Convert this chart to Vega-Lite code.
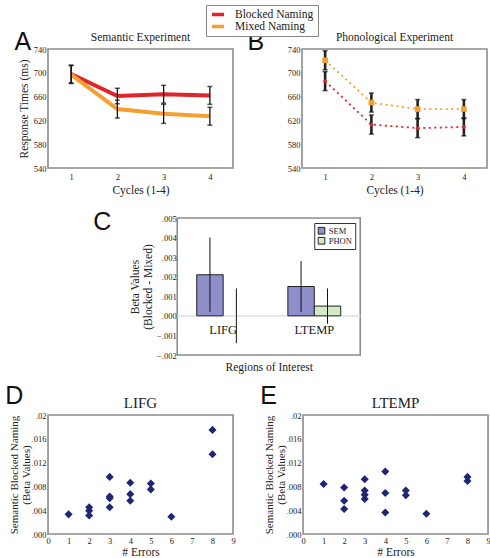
{
  "$schema": "https://vega.github.io/schema/vega-lite/v6.json",
  "padding": {"left": 5, "top": 4, "right": 0, "bottom": 0},
  "background": "white",
  "title": {"text": "C", "anchor": "start", "frame": "bounds", "font": "Liberation Sans", "fontSize": 25, "fontWeight": "normal", "color": "#111", "baseline": "alphabetic", "dx": 88, "dy": 254},
  "datasets": {
    "rt": [
      {"exp": "Semantic", "cycle": 1, "cond": "Blocked Naming", "rt": 698, "lo": 683, "hi": 713},
      {"exp": "Semantic", "cycle": 2, "cond": "Blocked Naming", "rt": 661, "lo": 648, "hi": 674},
      {"exp": "Semantic", "cycle": 3, "cond": "Blocked Naming", "rt": 664, "lo": 649, "hi": 679},
      {"exp": "Semantic", "cycle": 4, "cond": "Blocked Naming", "rt": 662, "lo": 647, "hi": 677},
      {"exp": "Semantic", "cycle": 1, "cond": "Mixed Naming", "rt": 697, "lo": 682, "hi": 712},
      {"exp": "Semantic", "cycle": 2, "cond": "Mixed Naming", "rt": 639, "lo": 624, "hi": 654},
      {"exp": "Semantic", "cycle": 3, "cond": "Mixed Naming", "rt": 631, "lo": 615, "hi": 647},
      {"exp": "Semantic", "cycle": 4, "cond": "Mixed Naming", "rt": 627, "lo": 612, "hi": 642},
      {"exp": "Phonological", "cycle": 1, "cond": "Blocked Naming", "rt": 686, "lo": 670, "hi": 702},
      {"exp": "Phonological", "cycle": 2, "cond": "Blocked Naming", "rt": 613, "lo": 597, "hi": 629},
      {"exp": "Phonological", "cycle": 3, "cond": "Blocked Naming", "rt": 607, "lo": 591, "hi": 623},
      {"exp": "Phonological", "cycle": 4, "cond": "Blocked Naming", "rt": 609, "lo": 594, "hi": 624},
      {"exp": "Phonological", "cycle": 1, "cond": "Mixed Naming", "rt": 721, "lo": 705, "hi": 737},
      {"exp": "Phonological", "cycle": 2, "cond": "Mixed Naming", "rt": 650, "lo": 634, "hi": 666},
      {"exp": "Phonological", "cycle": 3, "cond": "Mixed Naming", "rt": 639, "lo": 623, "hi": 655},
      {"exp": "Phonological", "cycle": 4, "cond": "Mixed Naming", "rt": 639, "lo": 623, "hi": 655}
    ],
    "beta": [
      {"region": "LIFG", "type": "SEM", "value": 0.0021, "lo": 0.0002, "hi": 0.0040},
      {"region": "LIFG", "type": "PHON", "value": 0.0, "lo": -0.0014, "hi": 0.0014},
      {"region": "LTEMP", "type": "SEM", "value": 0.0015, "lo": 0.0002, "hi": 0.0028},
      {"region": "LTEMP", "type": "PHON", "value": 0.0005, "lo": -0.0004, "hi": 0.0014}
    ],
    "regions": [{"region": "LIFG"}, {"region": "LTEMP"}],
    "scatter": [
      {"roi": "LIFG", "errors": 1, "beta": 0.0033},
      {"roi": "LIFG", "errors": 2, "beta": 0.0045},
      {"roi": "LIFG", "errors": 2, "beta": 0.0039},
      {"roi": "LIFG", "errors": 2, "beta": 0.0031},
      {"roi": "LIFG", "errors": 3, "beta": 0.0096},
      {"roi": "LIFG", "errors": 3, "beta": 0.0063},
      {"roi": "LIFG", "errors": 3, "beta": 0.0060},
      {"roi": "LIFG", "errors": 3, "beta": 0.0045},
      {"roi": "LIFG", "errors": 4, "beta": 0.0086},
      {"roi": "LIFG", "errors": 4, "beta": 0.0067},
      {"roi": "LIFG", "errors": 4, "beta": 0.0056},
      {"roi": "LIFG", "errors": 5, "beta": 0.0085},
      {"roi": "LIFG", "errors": 5, "beta": 0.0075},
      {"roi": "LIFG", "errors": 6, "beta": 0.0029},
      {"roi": "LIFG", "errors": 8, "beta": 0.0175},
      {"roi": "LIFG", "errors": 8, "beta": 0.0134},
      {"roi": "LTEMP", "errors": 1, "beta": 0.0084},
      {"roi": "LTEMP", "errors": 2, "beta": 0.0078},
      {"roi": "LTEMP", "errors": 2, "beta": 0.0056},
      {"roi": "LTEMP", "errors": 2, "beta": 0.0042},
      {"roi": "LTEMP", "errors": 3, "beta": 0.0092},
      {"roi": "LTEMP", "errors": 3, "beta": 0.0073},
      {"roi": "LTEMP", "errors": 3, "beta": 0.0066},
      {"roi": "LTEMP", "errors": 3, "beta": 0.0059},
      {"roi": "LTEMP", "errors": 4, "beta": 0.0105},
      {"roi": "LTEMP", "errors": 4, "beta": 0.0069},
      {"roi": "LTEMP", "errors": 4, "beta": 0.0036},
      {"roi": "LTEMP", "errors": 5, "beta": 0.0073},
      {"roi": "LTEMP", "errors": 5, "beta": 0.0065},
      {"roi": "LTEMP", "errors": 6, "beta": 0.0034},
      {"roi": "LTEMP", "errors": 8, "beta": 0.0096},
      {"roi": "LTEMP", "errors": 8, "beta": 0.0089}
    ]
  },
  "config": {
    "font": "Liberation Serif",
    "view": {"stroke": "#8c8c8c", "strokeWidth": 1.6},
    "axis": {"grid": false, "domain": false, "ticks": false, "labelOverlap": false, "labelFlush": false, "labelFont": "Liberation Serif", "labelFontSize": 8.5, "labelColor": "#222", "labelPadding": 2, "titleFont": "Liberation Serif", "titleFontSize": 11.5, "titleFontWeight": "normal", "titleColor": "#222", "titlePadding": 4},
    "title": {"font": "Liberation Serif", "fontSize": 11.5, "fontWeight": "normal", "color": "#222"},
    "legend": {"labelFont": "Liberation Serif", "labelColor": "#222"}
  },
  "spacing": 16,
  "center": false,
  "resolve": {"scale": {"color": "independent", "fill": "independent"}},
  "vconcat": [
    {
      "spacing": 13,
      "hconcat": [
        {
          "title": {"text": "A", "anchor": "start", "frame": "bounds", "font": "Liberation Sans", "fontSize": 25, "fontWeight": "normal", "color": "#111", "baseline": "alphabetic", "offset": 0, "dy": 44, "dx": -3},
          "hconcat": [
            {
              "width": 185, "height": 119,
              "title": {"text": "Semantic Experiment", "offset": 2},
              "data": {"name": "rt"},
              "transform": [{"filter": "datum.exp == 'Semantic'"}],
              "encoding": {
                "x": {"field": "cycle", "type": "quantitative", "scale": {"domain": [0.5, 4.5]}, "axis": {"values": [1, 2, 3, 4], "title": "Cycles (1-4)", "labelPadding": 4, "labelOverlap": false}}
              },
              "layer": [
                {
                  "mark": {"type": "line", "strokeWidth": 4},
                  "encoding": {
                    "y": {"field": "rt", "type": "quantitative", "scale": {"domain": [540, 740]}, "axis": {"values": [540, 580, 620, 660, 700, 740], "title": "Response Times (ms)", "labelOverlap": false}},
                    "color": {"field": "cond", "type": "nominal", "scale": {"domain": ["Blocked Naming", "Mixed Naming"], "range": ["#e1242c", "#f4a030"]},
                      "legend": {"title": null, "orient": "none", "legendX": 158, "legendY": -44, "symbolType": "stroke", "symbolStrokeWidth": 3.5, "symbolSize": 144, "clipHeight": 11, "labelFontSize": 11.5, "labelOffset": 9, "rowPadding": 0, "padding": 4, "strokeColor": "#888", "fillColor": "white"}}
                  }
                },
                {
                  "mark": {"type": "rule", "color": "#111", "strokeWidth": 1.3},
                  "encoding": {"y": {"field": "lo", "type": "quantitative", "axis": {"values": [540, 580, 620, 660, 700, 740], "title": "Response Times (ms)", "labelOverlap": false}}, "y2": {"field": "hi"}}
                },
                {
                  "mark": {"type": "tick", "orient": "horizontal", "color": "#111", "size": 5, "thickness": 1.5},
                  "encoding": {"y": {"field": "lo", "type": "quantitative", "axis": {"values": [540, 580, 620, 660, 700, 740], "title": "Response Times (ms)", "labelOverlap": false}}}
                },
                {
                  "mark": {"type": "tick", "orient": "horizontal", "color": "#111", "size": 5, "thickness": 1.5},
                  "encoding": {"y": {"field": "hi", "type": "quantitative", "axis": {"values": [540, 580, 620, 660, 700, 740], "title": "Response Times (ms)", "labelOverlap": false}}}
                }
              ]
            }
          ]
        },
        {
          "title": {"text": "B", "anchor": "start", "frame": "bounds", "font": "Liberation Sans", "fontSize": 25, "fontWeight": "normal", "color": "#111", "baseline": "alphabetic", "offset": 0, "dy": 44, "dx": -39},
          "hconcat": [
            {
              "width": 185, "height": 119,
              "title": {"text": "Phonological Experiment", "offset": 2},
              "data": {"name": "rt"},
              "transform": [{"filter": "datum.exp == 'Phonological'"}],
              "encoding": {
                "x": {"field": "cycle", "type": "quantitative", "scale": {"domain": [0.5, 4.5]}, "axis": {"values": [1, 2, 3, 4], "title": "Cycles (1-4)", "labelPadding": 4, "labelOverlap": false}}
              },
              "layer": [
                {
                  "mark": {"type": "line", "strokeWidth": 1.8, "strokeDash": [2, 3.5]},
                  "encoding": {
                    "y": {"field": "rt", "type": "quantitative", "scale": {"domain": [540, 740]}, "axis": {"values": [540, 580, 620, 660, 700, 740], "title": null, "labelOverlap": false}},
                    "color": {"field": "cond", "type": "nominal", "scale": {"domain": ["Blocked Naming", "Mixed Naming"], "range": ["#e1242c", "#f4a030"]}, "legend": null}
                  }
                },
                {
                  "mark": {"type": "rule", "color": "#222", "strokeWidth": 2.6},
                  "encoding": {"y": {"field": "lo", "type": "quantitative", "axis": {"values": [540, 580, 620, 660, 700, 740], "title": null, "labelOverlap": false}}, "y2": {"field": "hi"}}
                },
                {
                  "mark": {"type": "tick", "orient": "horizontal", "color": "#111", "size": 5, "thickness": 1.5},
                  "encoding": {"y": {"field": "lo", "type": "quantitative", "axis": {"values": [540, 580, 620, 660, 700, 740], "title": null, "labelOverlap": false}}}
                },
                {
                  "mark": {"type": "tick", "orient": "horizontal", "color": "#111", "size": 5, "thickness": 1.5},
                  "encoding": {"y": {"field": "hi", "type": "quantitative", "axis": {"values": [540, 580, 620, 660, 700, 740], "title": null, "labelOverlap": false}}}
                },
                {
                  "transform": [{"filter": "datum.cond == 'Mixed Naming'"}],
                  "mark": {"type": "point", "shape": "square", "filled": true, "size": 32, "opacity": 1},
                  "encoding": {
                    "y": {"field": "rt", "type": "quantitative", "axis": {"values": [540, 580, 620, 660, 700, 740], "title": null, "labelOverlap": false}},
                    "color": {"field": "cond", "type": "nominal", "legend": null}
                  }
                },
                {
                  "transform": [{"filter": "datum.cond == 'Blocked Naming'"}],
                  "mark": {"type": "point", "shape": "circle", "filled": true, "size": 14, "opacity": 1},
                  "encoding": {
                    "y": {"field": "rt", "type": "quantitative", "axis": {"values": [540, 580, 620, 660, 700, 740], "title": null, "labelOverlap": false}},
                    "color": {"field": "cond", "type": "nominal", "legend": null}
                  }
                }
              ]
            }
          ]
        }
      ]
    },
    {
      "center": true,
      "spacing": 10,
      "resolve": {"scale": {"fill": "independent"}},
      "vconcat": [
        {
          "width": 183, "height": 137,
          "layer": [
            {
              "data": {"name": "regions"},
              "mark": {"type": "rule", "color": "#e4e4e4", "strokeWidth": 1.5},
              "encoding": {"y": {"datum": 0, "type": "quantitative", "axis": {"values": [-0.002, -0.001, 0, 0.001, 0.002, 0.003, 0.004, 0.005], "labelOverlap": false, "labelExpr": "replace(format(datum.value, '.3f'), '0.', '.')", "title": ["Beta Values", "(Blocked - Mixed)"], "titleLineHeight": 13, "labelPadding": 1, "titlePadding": 3}}}
            },
            {
              "data": {"name": "beta"},
              "mark": {"type": "bar", "strokeWidth": 1},
              "encoding": {
                "x": {"field": "region", "type": "nominal", "scale": {"paddingInner": 0.42, "paddingOuter": 0.214}, "axis": {"labels": false, "title": "Regions of Interest", "titlePadding": 6}},
                "xOffset": {"field": "type", "type": "nominal", "scale": {"domain": ["SEM", "PHON"], "paddingInner": 0, "paddingOuter": 0}},
                "y": {"field": "value", "type": "quantitative", "scale": {"domain": [-0.002, 0.005]}, "axis": {"values": [-0.002, -0.001, 0, 0.001, 0.002, 0.003, 0.004, 0.005], "labelOverlap": false, "labelExpr": "replace(format(datum.value, '.3f'), '0.', '.')", "title": ["Beta Values", "(Blocked - Mixed)"], "titleLineHeight": 13, "labelPadding": 1, "titlePadding": 3}},
                "stroke": {"condition": {"test": "datum.value == 0", "value": null}, "value": "#222"},
                "fill": {"field": "type", "type": "nominal", "scale": {"domain": ["SEM", "PHON"], "range": ["#8f8fcb", "#d4e9c8"]},
                  "legend": {"title": null, "orient": "top-right", "offset": 5, "symbolType": "square", "symbolSize": 45, "clipHeight": 9.5, "symbolStrokeColor": "#222", "symbolStrokeWidth": 1, "labelFontSize": 8.5, "labelOffset": 3, "rowPadding": 0, "padding": 3, "strokeColor": "#333", "fillColor": "white"}}
              }
            },
            {
              "data": {"name": "beta"},
              "mark": {"type": "rule", "color": "#111", "strokeWidth": 1},
              "encoding": {
                "x": {"field": "region", "type": "nominal"},
                "xOffset": {"field": "type", "type": "nominal"},
                "y": {"field": "lo", "type": "quantitative", "axis": {"values": [-0.002, -0.001, 0, 0.001, 0.002, 0.003, 0.004, 0.005], "labelOverlap": false, "labelExpr": "replace(format(datum.value, '.3f'), '0.', '.')", "title": ["Beta Values", "(Blocked - Mixed)"], "titleLineHeight": 13, "labelPadding": 1, "titlePadding": 3}},
                "y2": {"field": "hi"}
              }
            },
            {
              "data": {"name": "regions"},
              "mark": {"type": "text", "font": "Liberation Serif", "fontSize": 12.5, "color": "#222"},
              "encoding": {
                "x": {"field": "region", "type": "nominal"},
                "y": {"datum": -0.0007, "type": "quantitative", "axis": {"values": [-0.002, -0.001, 0, 0.001, 0.002, 0.003, 0.004, 0.005], "labelOverlap": false, "labelExpr": "replace(format(datum.value, '.3f'), '0.', '.')", "title": ["Beta Values", "(Blocked - Mixed)"], "titleLineHeight": 13, "labelPadding": 1, "titlePadding": 3}},
                "text": {"field": "region"}
              }
            }
          ]
        },
        {
          "spacing": 24,
          "hconcat": [
            {
              "title": {"text": "D", "anchor": "start", "frame": "bounds", "font": "Liberation Sans", "fontSize": 25, "fontWeight": "normal", "color": "#111", "baseline": "alphabetic", "offset": 0, "dy": 34, "dx": -2},
              "hconcat": [
                {
                  "width": 185, "height": 119,
                  "title": {"text": "LIFG", "fontSize": 15, "offset": 0},
                  "data": {"name": "scatter"},
                  "transform": [{"filter": "datum.roi == 'LIFG'"}],
                  "mark": {"type": "point", "shape": "diamond", "filled": true, "size": 65, "color": "#1e2674", "opacity": 1},
                  "encoding": {
                    "x": {"field": "errors", "type": "quantitative", "scale": {"domain": [0, 9]}, "axis": {"values": [0, 1, 2, 3, 4, 5, 6, 7, 8, 9], "title": "# Errors", "labelPadding": 2, "titlePadding": 2, "labelOverlap": false}},
                    "y": {"field": "beta", "type": "quantitative", "scale": {"domain": [0, 0.02]}, "axis": {"values": [0, 0.004, 0.008, 0.012, 0.016, 0.02], "labelOverlap": false, "labelExpr": "datum.value > 0.019 ? '.02' : replace(format(datum.value, '.3f'), '0.', '.')", "title": ["Semantic Blocked Naming", "(Beta Values)"], "titleFontSize": 11, "titleLineHeight": 12, "titlePadding": 0, "labelPadding": 2}}
                  }
                }
              ]
            },
            {
              "title": {"text": "E", "anchor": "start", "frame": "bounds", "font": "Liberation Sans", "fontSize": 25, "fontWeight": "normal", "color": "#111", "baseline": "alphabetic", "offset": 0, "dy": 34, "dx": -2},
              "hconcat": [
                {
                  "width": 185, "height": 119,
                  "title": {"text": "LTEMP", "fontSize": 15, "offset": 0},
                  "data": {"name": "scatter"},
                  "transform": [{"filter": "datum.roi == 'LTEMP'"}],
                  "mark": {"type": "point", "shape": "diamond", "filled": true, "size": 65, "color": "#1e2674", "opacity": 1},
                  "encoding": {
                    "x": {"field": "errors", "type": "quantitative", "scale": {"domain": [0, 9]}, "axis": {"values": [0, 1, 2, 3, 4, 5, 6, 7, 8, 9], "title": "# Errors", "labelPadding": 2, "titlePadding": 2, "labelOverlap": false}},
                    "y": {"field": "beta", "type": "quantitative", "scale": {"domain": [0, 0.02]}, "axis": {"values": [0, 0.004, 0.008, 0.012, 0.016, 0.02], "labelOverlap": false, "labelExpr": "datum.value > 0.019 ? '.02' : replace(format(datum.value, '.3f'), '0.', '.')", "title": ["Semantic Blocked Naming", "(Beta Values)"], "titleFontSize": 11, "titleLineHeight": 12, "titlePadding": 0, "labelPadding": 2}}
                  }
                }
              ]
            }
          ]
        }
      ]
    }
  ]
}
